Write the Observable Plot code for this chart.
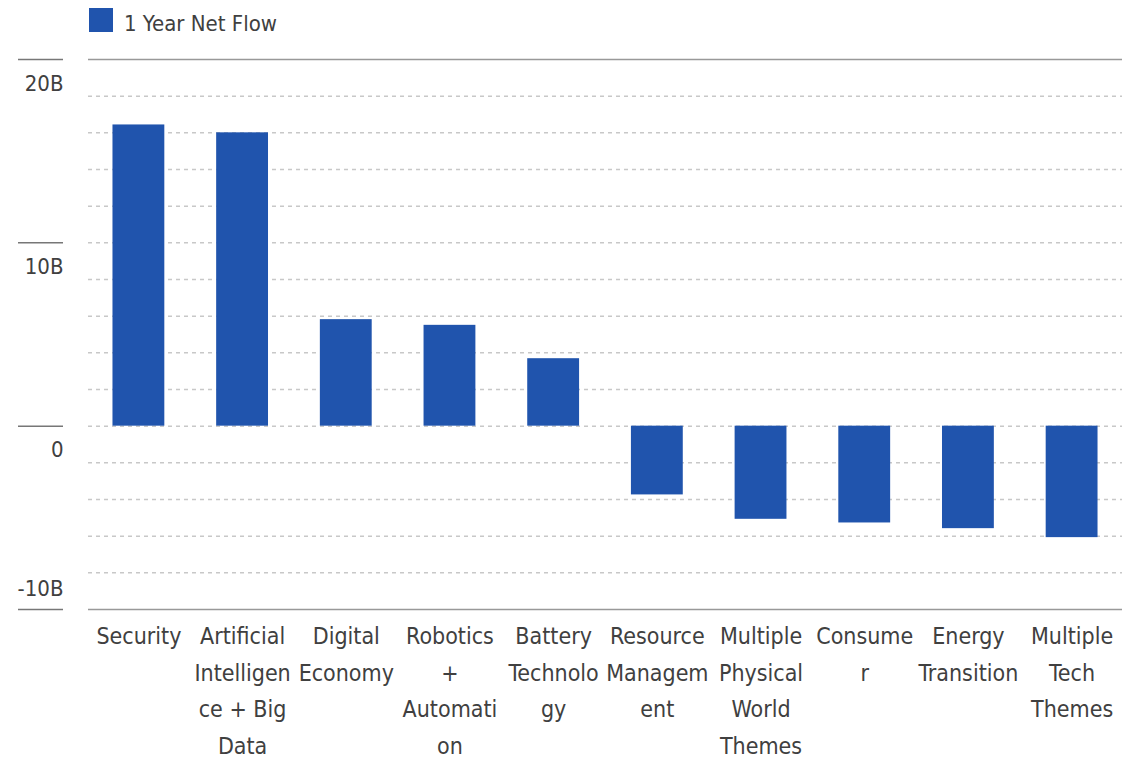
<!DOCTYPE html>
<html>
<head>
<meta charset="utf-8">
<script src="https://cdn.jsdelivr.net/npm/d3@7"></script>
<script src="https://cdn.jsdelivr.net/npm/@observablehq/plot@0.6"></script>
<style>
  body { margin: 0; background: #fff; font-family: "DejaVu Sans Condensed", "Liberation Sans Narrow", sans-serif; }
  #legend { position: relative; height: 46px; width: 1141px; }
  #legend .sw { position: absolute; left: 89px; top: 8px; width: 24px; height: 24px; background: #2054ad; }
  #legend .lb { position: absolute; left: 124px; top: 13px; font-size: 22px; line-height: 1; color: #404040; }
</style>
</head>
<body>
<div id="legend"><span class="sw"></span><span class="lb">1 Year Net Flow</span></div>
<div id="chart"></div>
<script>
const categories = [
  "Security", "Artificial Intelligence + Big Data", "Digital Economy", "Robotics + Automation",
  "Battery Technology", "Resource Management", "Multiple Physical World Themes", "Consumer",
  "Energy Transition", "Multiple Tech Themes"
];
const tickLabels = [
  "Security", "Artificial\nIntelligen\nce + Big\nData", "Digital\nEconomy", "Robotics\n+\nAutomati\non",
  "Battery\nTechnolo\ngy", "Resource\nManagem\nent", "Multiple\nPhysical\nWorld\nThemes", "Consume\nr",
  "Energy\nTransition", "Multiple\nTech\nThemes"
];
const netFlow = [16.43, 16.0, 5.81, 5.5, 3.68, -3.75, -5.08, -5.28, -5.59, -6.08]; // billions
const yTicks = [-10, 0, 10, 20];
const yTickLabels = ["-10B", "0", "10B", "20B"];
const gridValues = [-8, -6, -4, -2, 0, 2, 4, 6, 8, 10, 12, 14, 16, 18];
const frameLines = [-10, 20];

const data = categories.map((c, i) => ({cat: c, value: netFlow[i], label: tickLabels[i]}));
const yLab = yTicks.map((v, i) => ({v, t: yTickLabels[i]}));
const font = '"DejaVu Sans Condensed", "Liberation Sans Narrow", sans-serif';

const chart = Plot.plot({
  width: 1141,
  height: 712,
  marginTop: 13,
  marginBottom: 149,
  marginLeft: 88,
  marginRight: 19,
  style: {fontFamily: font, color: "#404040", background: "#fff"},
  x: {domain: categories, paddingInner: 0.5, paddingOuter: 0.236, round: false, axis: null},
  y: {domain: [-10, 20], axis: null},
  marks: [
    Plot.ruleY(gridValues, {stroke: "#c8c8c8", strokeWidth: 1.5, strokeDasharray: "4,4"}),
    Plot.ruleY(frameLines, {stroke: "#999", strokeWidth: 1.5}),
    Plot.barY(data, {x: "cat", y: "value", fill: "#2054ad"}),
    Plot.axisY({ticks: yTicks, tickSize: 45, tickPadding: 0, text: null, dx: -25, stroke: "#777", strokeWidth: 1.5}),
    Plot.text(yLab.filter(d => d.v !== -10), {y: "v", text: "t", frameAnchor: "left", textAnchor: "end", dx: -25, dy: 24, fontSize: 22, fill: "#404040"}),
    Plot.text(yLab.filter(d => d.v === -10), {y: "v", text: "t", frameAnchor: "left", textAnchor: "end", dx: -25, dy: -21, fontSize: 22, fill: "#404040"}),
    Plot.text(data, {x: "cat", text: "label", frameAnchor: "bottom", lineAnchor: "top", dy: 9, fontSize: 23, lineHeight: 1.585, fill: "#404040"})
  ]
});
document.getElementById("chart").appendChild(chart);
</script>
</body>
</html>
